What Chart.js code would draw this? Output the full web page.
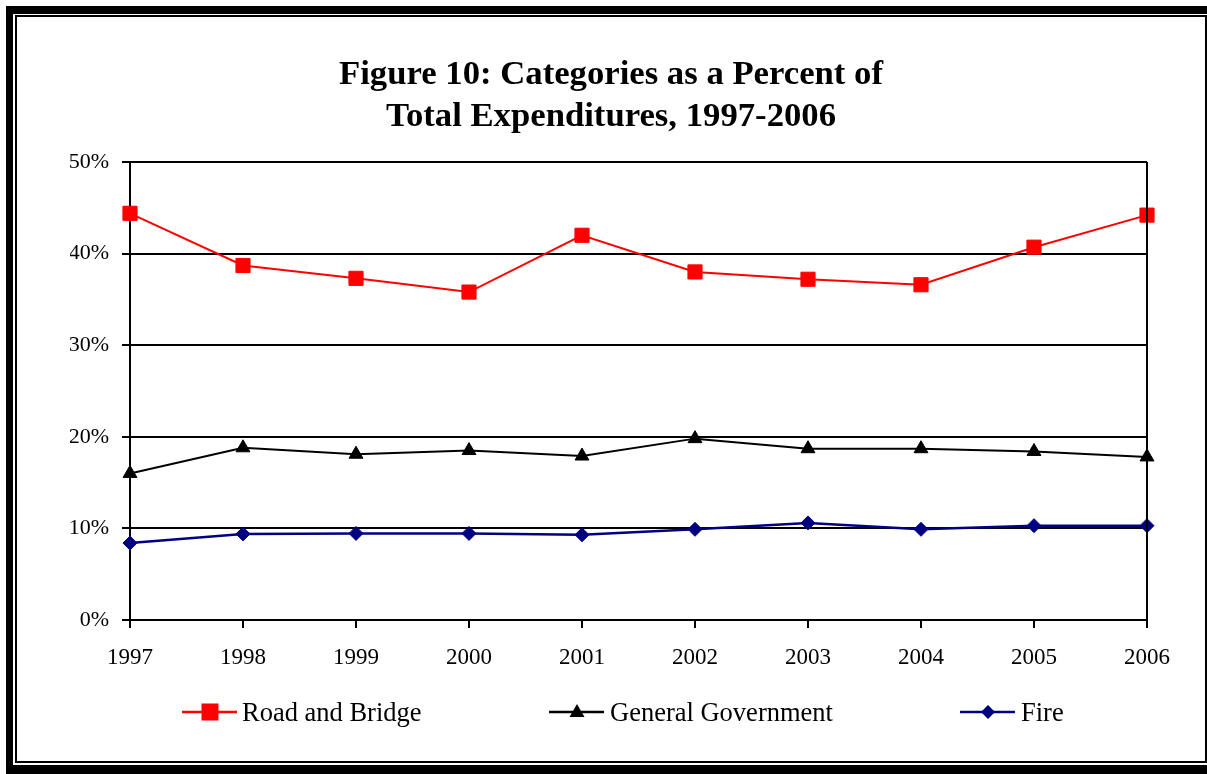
<!DOCTYPE html>
<html>
<head>
<meta charset="utf-8">
<script src="https://cdn.jsdelivr.net/npm/chart.js@4/dist/chart.umd.min.js"></script>
<style>
  html, body { margin:0; padding:0; background:#fff; width:1207px; height:774px; overflow:hidden; }
  #outer { position:absolute; left:6px; top:6px; width:1201px; height:768px; background:#000; }
  #white { position:absolute; left:13px; top:14px; width:1194px; height:751px; background:#fff; }
  #inner { position:absolute; left:15px; top:15px; width:1192px; height:748px; border:2px solid #000; box-sizing:border-box; }
  #wrap { position:absolute; left:0; top:0; width:1207px; height:774px; }
  #title { position:absolute; left:15px; width:1192px; top:52px; text-align:center;
           font-family:"Liberation Serif","Times New Roman",serif; font-weight:bold; font-size:34.7px; line-height:42px; color:#000; }
  .leg { position:absolute; top:698px; height:30px; font-family:"Liberation Serif","Times New Roman",serif; font-size:26.5px; color:#000; }
  .leg svg { position:absolute; left:0; top:0; }
  .leg span { position:absolute; top:-1px; white-space:nowrap; line-height:30px; }
</style>
</head>
<body>
<div id="outer"></div>
<div id="white"></div>
<div id="inner"></div>
<div id="wrap"><canvas id="c" width="1207" height="774"></canvas></div>
<div id="title">Figure 10: Categories as a Percent of<br>Total Expenditures, 1997-2006</div>
<div id="legend"></div>
<script>
const years = ["1997","1998","1999","2000","2001","2002","2003","2004","2005","2006"];
const roadAndBridge = [44.4, 38.7, 37.3, 35.8, 42.0, 38.0, 37.2, 36.6, 40.7, 44.2];
const generalGovernment = [16.0, 18.8, 18.1, 18.5, 17.9, 19.8, 18.7, 18.7, 18.4, 17.8];
const fire = [8.4, 9.4, 9.45, 9.45, 9.3, 9.9, 10.6, 9.9, 10.3, 10.3];
const yTicks = [0, 10, 20, 30, 40, 50];
const seriesNames = ["Road and Bridge", "General Government", "Fire"];

const serif = "'Liberation Serif','Times New Roman',serif";

const frameBox = {
  id: 'frameBox',
  afterDraw(chart) {
    const a = chart.chartArea, ctx = chart.ctx;
    ctx.save();
    ctx.strokeStyle = '#000';
    ctx.lineWidth = 2;
    ctx.beginPath();
    ctx.moveTo(a.right, a.top);
    ctx.lineTo(a.right, a.bottom);
    ctx.moveTo(a.left, a.top);
    ctx.lineTo(a.right, a.top);
    ctx.stroke();
    ctx.restore();
  }
};

new Chart(document.getElementById('c'), {
  type: 'line',
  data: {
    labels: years,
    datasets: [
      { label: seriesNames[0], data: roadAndBridge, borderColor: '#FF0000', backgroundColor: '#FF0000',
        borderWidth: 2, pointStyle: 'rect', pointRadius: 10, pointBorderWidth: 1, tension: 0 },
      { label: seriesNames[1], data: generalGovernment, borderColor: '#000000', backgroundColor: '#000000',
        borderWidth: 2, pointStyle: 'triangle', pointRadius: 8, pointBorderWidth: 1, tension: 0 },
      { label: seriesNames[2], data: fire, borderColor: '#000080', backgroundColor: '#000080',
        borderWidth: 2.5, pointStyle: 'rectRot', pointRadius: 7, pointBorderWidth: 1, tension: 0 }
    ]
  },
  options: {
    responsive: false,
    animation: false,
    layout: { padding: { left: 70, right: 60, top: 162, bottom: 104 } },
    plugins: { legend: { display: false }, title: { display: false }, tooltip: { enabled: false } },
    scales: {
      x: {
        offset: false,
        afterFit(s) { s.height = 50; },
        grid: { drawOnChartArea: false, drawTicks: true, tickLength: 8, color: '#000', lineWidth: 2 },
        border: { display: true, color: '#000', width: 2 },
        ticks: { color: '#000', font: { family: serif, size: 23 }, padding: 16, maxRotation: 0 }
      },
      y: {
        min: 0, max: 50,
        afterFit(s) { s.width = 60; },
        afterBuildTicks(s) { s.ticks = yTicks.map(v => ({ value: v })); },
        grid: { color: '#000', lineWidth: 2, tickLength: 8, drawTicks: true },
        border: { display: true, color: '#000', width: 2 },
        ticks: { color: '#000', font: { family: serif, size: 22 }, padding: 13,
                 callback: v => v + '%' }
      }
    }
  },
  plugins: [frameBox]
});

// HTML legend
const legendDefs = [
  { left: 182, textLeft: 60, color: '#FF0000', shape: 'square' },
  { left: 549, textLeft: 61, color: '#000000', shape: 'triangle' },
  { left: 960, textLeft: 61, color: '#000080', shape: 'diamond' }
];
const legend = document.getElementById('legend');
legendDefs.forEach((d, i) => {
  const el = document.createElement('div');
  el.className = 'leg';
  el.style.left = d.left + 'px';
  el.style.width = '340px';
  let shape = '';
  const cx = 28, cy = 14;
  if (d.shape === 'square') shape = `<rect x="${cx-8.5}" y="${cy-8.5}" width="17" height="17" fill="${d.color}"/>`;
  if (d.shape === 'triangle') shape = `<polygon points="${cx},${cy-8} ${cx+7.5},${cy+5} ${cx-7.5},${cy+5}" fill="${d.color}"/>`;
  if (d.shape === 'diamond') shape = `<polygon points="${cx},${cy-7} ${cx+7},${cy} ${cx},${cy+7} ${cx-7},${cy}" fill="${d.color}"/>`;
  el.innerHTML = `<svg width="56" height="30"><line x1="0" y1="${cy}" x2="55" y2="${cy}" stroke="${d.color}" stroke-width="2.5"/>${shape}</svg><span style="left:${d.textLeft}px">${seriesNames[i]}</span>`;
  legend.appendChild(el);
});
</script>
</body>
</html>
